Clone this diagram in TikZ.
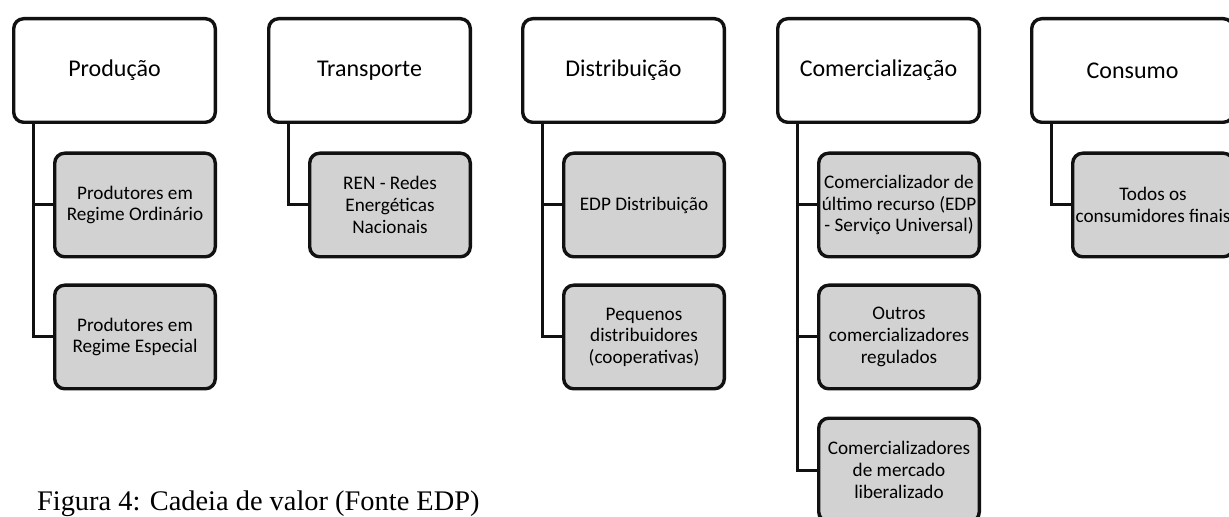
\documentclass[tikz,border=0pt]{standalone}
\usepackage{fontspec}
\setmainfont{Carlito}
\newfontfamily\captionfont{Liberation Serif}
\usetikzlibrary{positioning}
\definecolor{boxgray}{HTML}{D2D2D2}
\definecolor{inkline}{HTML}{111111}

\begin{document}
\begin{tikzpicture}[
  x=0.5pt,
  y=-0.5pt,
  stage/.style={draw=inkline,line width=1.7pt,rounded corners=5pt,fill=white,
    minimum width=100.8pt,minimum height=51.8pt,inner sep=0pt,
    font=\fontsize{12}{14}\selectfont},
  actor/.style={draw=inkline,line width=1.7pt,rounded corners=5pt,fill=boxgray,
    minimum width=80.3pt,minimum height=51.8pt,inner sep=0pt,align=center,
    font=\fontsize{9.6}{10.8}\selectfont},
  link/.style={inkline,line width=1.5pt}
]
\useasboundingbox (0,0) rectangle (1229,517);

% Value chain stages
\node[stage] (prod) at (114.5,70.5) {Produção};
\node[stage] (trans) at (369.5,70.5) {Transporte};
\node[stage] (dist) at (623.5,70.5) {Distribuição};
\node[stage] (comer) at (878.5,70.5) {Comercialização};
\node[stage] (cons) at (1132.5,70.5) {Consumo};

% Agents in each stage
\node[actor] (prodA) at (135,205) {Produtores em\\Regime Ordinário};
\node[actor] (prodB) at (135,337) {Produtores em\\Regime Especial};
\node[actor] (transA) at (390,205) {REN - Redes\\Energéticas\\Nacionais};
\node[actor] (distA) at (644,205) {EDP Distribuição};
\node[actor] (distB) at (644,337) {Pequenos\\distribuidores\\(cooperativas)};
\node[actor] (comerA) at (899,205) {Comercializador de\\último recurso (EDP\\- Serviço Universal)};
\node[actor] (comerB) at (899,337) {Outros\\comercializadores\\regulados};
\node[actor] (comerC) at (899,470) {Comercializadores\\de mercado\\liberalizado};
\node[actor] (consA) at (1153,205) {Todos os\\consumidores finais};

% Tree links
\foreach \p/\c in {prod/prodA,prod/prodB,trans/transA,dist/distA,dist/distB,
                   comer/comerA,comer/comerB,comer/comerC,cons/consA}{
  \draw[link] ([xshift=10.75pt]\p.south west) |- (\c.west);
}

\node[anchor=base west,font=\captionfont\fontsize{14.2}{16}\selectfont]
  (caption) at (30,510) {Figura 4: Cadeia de valor (Fonte EDP)};

\end{tikzpicture}
\end{document}
